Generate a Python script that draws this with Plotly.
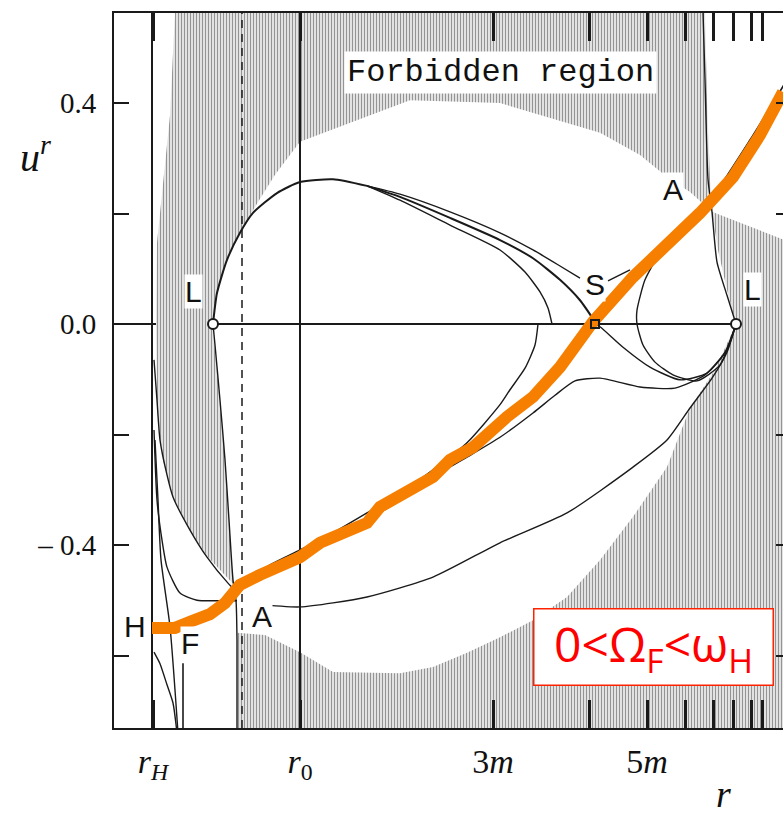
import plotly.graph_objects as go

# ---------------- axis ticks ----------------
X_TICKS = [1.53, 3.00, 4.93, 6.47]
X_TICK_TEXT = ["<i>r</i><sub><i>H</i></sub>", "<i>r</i><sub>0</sub>", "3<i>m</i>", "5<i>m</i>"]
X_MINOR_TICKS = [5.89, 6.85, 7.13, 7.33, 7.51, 7.62]
Y_TICKS = [-0.4, 0.0, 0.4]
Y_TICK_TEXT = ["\u2013 0.4", "0.0", "0.4"]
Y_MINOR_TICKS = [-0.6, -0.2, 0.2]
Y_RIGHT_TICKS = [0.4, 0.2, -0.2, -0.4, -0.6]
X_RANGE = [1.14, 7.83]
Y_RANGE = [-0.7312, 0.5629]

R_H = 1.52
R_0 = 3.00
R_DASH = 2.42

# ---------------- forbidden (shaded) regions ----------------
TOP_REGION_X = [1.75, 7.05, 7.07, 7.10, 7.12, 6.90, 6.67, 6.40, 6.00, 5.00, 4.10, 3.00, 2.75, 2.53, 2.40,
                2.27, 2.17, 2.12, 2.18, 2.24, 2.29, 2.33, 2.07, 1.90, 1.73, 1.62, 1.57, 1.56, 1.57, 1.63, 1.70]
TOP_REGION_Y = [0.565, 0.565, 0.405, 0.261, 0.203, 0.239, 0.266, 0.306, 0.346, 0.400, 0.405, 0.330, 0.270,
                0.206, 0.165, 0.116, 0.056, 0.000, -0.101, -0.228, -0.355, -0.470, -0.420, -0.373, -0.313,
                -0.240, -0.150, 0.000, 0.147, 0.248, 0.378]
RIGHT_REGION_X = [7.12, 7.90, 7.90, 2.37, 2.37, 2.65, 3.00, 3.33, 4.00, 4.33, 4.67, 5.00, 5.33, 5.67, 6.00,
                  6.33, 6.67, 6.90, 7.15, 7.36, 7.27, 7.18, 7.12]
RIGHT_REGION_Y = [0.203, 0.148, -0.74, -0.74, -0.559, -0.563, -0.594, -0.630, -0.632, -0.621, -0.595, -0.567,
                  -0.536, -0.494, -0.427, -0.349, -0.259, -0.152, -0.083, 0.0, 0.062, 0.134, 0.203]

# ---------------- solution curves ----------------
TRUNK_X = [2.13, 2.17, 2.27, 2.40, 2.53, 2.77, 3.00, 3.33, 3.67]
TRUNK_Y = [0.0, 0.056, 0.116, 0.165, 0.201, 0.237, 0.257, 0.262, 0.250]
F1_X = [3.67, 4.00, 4.50, 5.00, 5.33, 5.60, 5.80]
F1_Y = [0.250, 0.235, 0.203, 0.165, 0.134, 0.105, 0.083]
F1B_X = [6.08, 6.30]
F1B_Y = [0.078, 0.098]
F2_X = [3.67, 4.00, 4.50, 5.00, 5.33, 5.60, 5.80, 5.95]
F2_Y = [0.250, 0.230, 0.192, 0.152, 0.119, 0.080, 0.043, 0.004]
F3_X = [3.67, 4.00, 4.50, 5.00, 5.25, 5.40, 5.48, 5.52]
F3_Y = [0.250, 0.224, 0.179, 0.134, 0.094, 0.058, 0.029, 0.0]
G1_X = [5.38, 5.35, 5.25, 5.10, 5.00, 4.67, 4.33, 4.00, 3.67, 3.33, 3.00, 2.70, 2.40]
G1_Y = [0.0, -0.038, -0.080, -0.119, -0.146, -0.215, -0.264, -0.306, -0.342, -0.378, -0.409, -0.436, -0.469]
G2_X = [2.40, 2.70, 3.00, 3.33, 3.67, 4.00, 4.33, 4.67, 5.00, 5.33, 5.55, 5.75, 6.00, 6.40, 6.75, 7.05, 7.25, 7.36]
G2_Y = [-0.472, -0.445, -0.414, -0.386, -0.355, -0.319, -0.277, -0.241, -0.205, -0.161, -0.129, -0.103,
        -0.098, -0.114, -0.116, -0.092, -0.051, 0.0]
G3_X = [2.55, 3.00, 3.67, 4.33, 5.00, 5.67, 6.33, 6.67, 6.90, 7.12, 7.27, 7.36]
G3_Y = [-0.507, -0.512, -0.494, -0.458, -0.396, -0.342, -0.259, -0.210, -0.152, -0.098, -0.051, 0.0]
SLOOP_X = [5.95, 6.00, 6.23, 6.50, 6.80, 7.07, 7.27, 7.36]
SLOOP_Y = [0.0, -0.005, -0.042, -0.078, -0.101, -0.089, -0.047, 0.0]
LOOP2_X = [6.88, 6.73, 6.60, 6.45, 6.37, 6.37, 6.43, 6.55, 6.73, 6.97, 7.20, 7.36]
LOOP2_Y = [0.174, 0.156, 0.129, 0.080, 0.025, 0.0, -0.038, -0.069, -0.092, -0.103, -0.074, 0.0]
CRIT_X = [5.95, 6.33, 6.70, 7.10, 7.50, 7.90]
CRIT_Y = [0.0, 0.076, 0.148, 0.224, 0.333, 0.451]
RIGHTWALL_X = [7.03, 7.05, 7.08, 7.12, 7.17, 7.27, 7.36]
RIGHTWALL_Y = [0.565, 0.443, 0.262, 0.203, 0.112, 0.052, 0.0]
LEFTWALL_X = [2.13, 2.15, 2.20, 2.25, 2.29, 2.33, 2.36, 2.37, 2.37]
LEFTWALL_Y = [0.0, -0.038, -0.138, -0.246, -0.355, -0.463, -0.500, -0.572, -0.74]
CL1_X = [1.54, 1.57, 1.60, 1.67, 1.73, 1.90, 2.07, 2.28, 2.37]
CL1_Y = [-0.065, -0.138, -0.210, -0.273, -0.313, -0.373, -0.422, -0.469, -0.485]
CL2_X = [1.54, 1.57, 1.62, 1.67, 1.80, 1.97, 2.17, 2.37]
CL2_Y = [-0.192, -0.319, -0.391, -0.440, -0.487, -0.500, -0.501, -0.501]
CL3_X = [1.55, 1.58, 1.61, 1.70, 1.78]
CL3_Y = [-0.210, -0.319, -0.427, -0.548, -0.74]
CL4_X = [1.54, 1.60, 1.67, 1.73, 1.77]
CL4_Y = [-0.594, -0.615, -0.653, -0.686, -0.74]
FLINE_X = [1.83, 1.83]
FLINE_Y = [-0.614, -0.74]

# ---------------- highlighted (orange) solution ----------------
ORANGE_X = [1.52, 1.75, 1.90, 2.10, 2.25, 2.40, 2.60, 2.90, 3.00, 3.20, 3.67, 3.80, 4.10, 4.33, 4.50, 4.73,
            5.07, 5.33, 5.60, 5.93, 6.33, 6.70, 7.00, 7.33, 7.60, 7.83]
ORANGE_Y = [-0.550, -0.550, -0.539, -0.525, -0.505, -0.472, -0.454, -0.431, -0.422, -0.396, -0.360, -0.331,
            -0.300, -0.277, -0.246, -0.223, -0.168, -0.132, -0.078, 0.004, 0.085, 0.147, 0.201, 0.266, 0.342,
            0.420]

# ---------------- special points and their labels ----------------
L_POINTS_X = [2.13, 7.36]
L_POINTS_Y = [0.0, 0.0]
S_POINT_X = [5.95]
S_POINT_Y = [0.0]
POINT_LABELS = ["L", "L", "S", "A", "A", "H", "F"]
POINT_LABEL_X = [1.93, 7.52, 5.95, 6.73, 2.62, 1.35, 1.90]
POINT_LABEL_Y = [0.058, 0.062, 0.071, 0.243, -0.530, -0.548, -0.578]

BLACK = "#1a1a1a"
SERIF = "Liberation Serif, DejaVu Serif, serif"
SANS = "Liberation Sans, Arial, sans-serif"

fig = go.Figure()

pattern = dict(shape="|", fgcolor="#444444", bgcolor="#e2e2e2", size=3, solidity=0.33)
for rx, ry in [(TOP_REGION_X, TOP_REGION_Y), (RIGHT_REGION_X, RIGHT_REGION_Y)]:
    fig.add_trace(go.Scatter(x=rx, y=ry, mode="lines", fill="toself", line=dict(width=0, color="rgba(0,0,0,0)"),
                             fillcolor="rgba(0,0,0,0)", fillpattern=pattern, hoverinfo="skip", showlegend=False))


def add_curve(xs, ys, width=1.5, dash=None, color=BLACK):
    fig.add_trace(go.Scatter(x=xs, y=ys, mode="lines", line=dict(color=color, width=width, dash=dash,
                                                                  shape="spline", smoothing=0.6),
                             hoverinfo="skip", showlegend=False))


# vertical reference lines
fig.add_trace(go.Scatter(x=[R_H, R_H], y=Y_RANGE, mode="lines", line=dict(color=BLACK, width=2),
                         showlegend=False, hoverinfo="skip"))
fig.add_trace(go.Scatter(x=[R_0, R_0], y=Y_RANGE, mode="lines", line=dict(color=BLACK, width=2),
                         showlegend=False, hoverinfo="skip"))
fig.add_trace(go.Scatter(x=[R_DASH, R_DASH], y=Y_RANGE, mode="lines",
                         line=dict(color=BLACK, width=1.5, dash="8px,6px"), showlegend=False, hoverinfo="skip"))

for cx, cy, w in [(TRUNK_X, TRUNK_Y, 2.0), (F1_X, F1_Y, 1.4), (F1B_X, F1B_Y, 1.4), (F2_X, F2_Y, 2.0),
                  (F3_X, F3_Y, 1.4), (G1_X, G1_Y, 1.4), (G2_X, G2_Y, 1.4), (G3_X, G3_Y, 1.4),
                  (SLOOP_X, SLOOP_Y, 1.4), (LOOP2_X, LOOP2_Y, 1.4), (CRIT_X, CRIT_Y, 1.6),
                  (RIGHTWALL_X, RIGHTWALL_Y, 1.4), (LEFTWALL_X, LEFTWALL_Y, 1.4), (CL1_X, CL1_Y, 1.4),
                  (CL2_X, CL2_Y, 1.4), (CL3_X, CL3_Y, 1.4), (CL4_X, CL4_Y, 1.4), (FLINE_X, FLINE_Y, 1.6)]:
    add_curve(cx, cy, width=w)

# orange highlighted solution
fig.add_trace(go.Scatter(x=ORANGE_X, y=ORANGE_Y, mode="lines", line=dict(color="#F77F00", width=12),
                         showlegend=False, hoverinfo="skip"))

# special points
fig.add_trace(go.Scatter(x=L_POINTS_X, y=L_POINTS_Y, mode="markers",
                         marker=dict(symbol="circle", size=10, color="white", line=dict(color=BLACK, width=2)),
                         showlegend=False, hoverinfo="skip"))
fig.add_trace(go.Scatter(x=S_POINT_X, y=S_POINT_Y, mode="markers",
                         marker=dict(symbol="square-open", size=8, color=BLACK, line=dict(color=BLACK, width=2)),
                         showlegend=False, hoverinfo="skip"))

# invisible trace to carry the right-hand tick axis
fig.add_trace(go.Scatter(x=[X_RANGE[0]], y=[0.0], yaxis="y2", mode="markers", marker=dict(opacity=0),
                         showlegend=False, hoverinfo="skip"))

for t, lx, ly in zip(POINT_LABELS, POINT_LABEL_X, POINT_LABEL_Y):
    fig.add_annotation(x=lx, y=ly, text=t, showarrow=False, font=dict(family=SANS, size=30, color="#111"),
                       bgcolor="white", borderpad=0)

fig.add_annotation(x=5.00, y=0.456, text="Forbidden region", showarrow=False,
                   font=dict(family="Liberation Mono, DejaVu Sans Mono, monospace", size=32, color="#111"),
                   bgcolor="white", borderpad=2)

fig.add_annotation(x=6.53, y=-0.584, text="0&lt;\u03a9<sub>F</sub>&lt;\u03c9<sub>H</sub>", showarrow=False,
                   font=dict(family="Open Sans, Noto Sans, sans-serif", size=48, color="#FF0000"),
                   bgcolor="white", bordercolor="#FF2200", borderwidth=1.5, width=236, height=73)

fig.add_annotation(xref="paper", x=-0.117, xanchor="center", y=0.306, yanchor="middle",
                   text="<i>u</i><sup><i>r</i></sup>",
                   showarrow=False, font=dict(family=SERIF, size=40, color="#111"))
fig.add_annotation(x=7.23, yref="paper", y=-0.092, yanchor="middle", text="<i>r</i>", showarrow=False,
                   font=dict(family=SERIF, size=38, color="#111"))

fig.update_layout(
    width=783, height=815,
    margin=dict(l=114, r=0, t=13, b=87),
    paper_bgcolor="white", plot_bgcolor="white",
    showlegend=False,
    xaxis=dict(range=X_RANGE, tickmode="array", tickvals=X_TICKS, ticktext=X_TICK_TEXT,
               ticks="inside", ticklen=28, tickwidth=2.5, tickcolor=BLACK,
               showline=True, linecolor=BLACK, linewidth=2, mirror="ticks", showgrid=False, zeroline=False,
               tickfont=dict(family=SERIF, size=34, color="#111"), ticklabelstandoff=2,
               minor=dict(tickmode="array", tickvals=X_MINOR_TICKS, ticks="inside", ticklen=28, tickwidth=2.5,
                          tickcolor=BLACK, showgrid=False)),
    yaxis=dict(range=Y_RANGE, tickmode="array", tickvals=Y_TICKS, ticktext=Y_TICK_TEXT,
               ticks="inside", ticklen=15, tickwidth=2, tickcolor=BLACK,
               showline=True, linecolor=BLACK, linewidth=2, mirror=False, showgrid=False,
               zeroline=True, zerolinecolor=BLACK, zerolinewidth=2,
               tickfont=dict(family=SERIF, size=29, color="#111"), ticklabelstandoff=10,
               minor=dict(tickmode="array", tickvals=Y_MINOR_TICKS, ticks="inside", ticklen=15, tickwidth=2,
                          tickcolor=BLACK, showgrid=False)),
    yaxis2=dict(range=Y_RANGE, overlaying="y", side="right", tickmode="array", tickvals=Y_RIGHT_TICKS,
                ticks="inside", ticklen=7, tickwidth=2, tickcolor=BLACK, showticklabels=False,
                showline=False, showgrid=False, zeroline=False),
)

fig.write_html("out.html", config={"displayModeBar": False},
               post_script="document.body.style.margin='0';document.body.style.overflow='hidden';")
